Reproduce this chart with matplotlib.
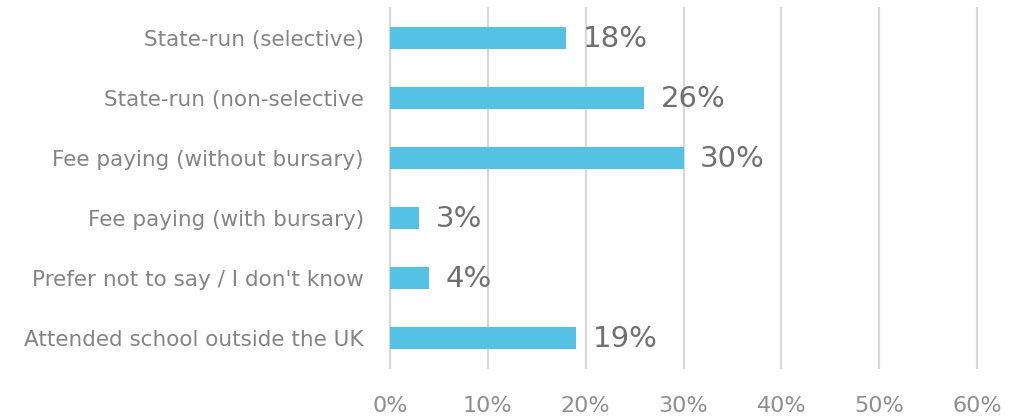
import matplotlib.pyplot as plt

# data
categories = ["State-run (selective)", "State-run (non-selective", "Fee paying (without bursary)",
              "Fee paying (with bursary)", "Prefer not to say / I don't know",
              "Attended school outside the UK"]
values = [18, 26, 30, 3, 4, 19]
xticks = [0, 10, 20, 30, 40, 50, 60]

plt.rcParams['font.family'] = ['DejaVu Sans']

fig = plt.figure(figsize=(10.12, 4.2), dpi=100)
ax = fig.add_axes([0.3854, 0.124, 0.58, 0.857])

y = list(range(len(categories)))
ax.barh(y, values, height=0.37, color='#55C2E5', zorder=3)
for yi, v in zip(y, values):
    ax.text(v + 1.7, yi + 0.02, f"{v}%", va='center', ha='left', fontsize=21,
            color='#707070')

ax.set_ylim(5.5, -0.5)
ax.set_xlim(0, 60)
ax.set_yticks(y)
ax.set_yticklabels(categories, fontsize=15.5, color='#858585')
ax.set_xticks(xticks)
ax.set_xticklabels([f"{t}%" for t in xticks], fontsize=16, color='#8f8f8f')
ax.tick_params(axis='both', length=0)
ax.tick_params(axis='y', pad=19)
ax.tick_params(axis='x', pad=20)
ax.grid(axis='x', color='#d9d9d9', linewidth=1.6, zorder=0)
for gl in ax.get_xgridlines():
    gl.set_clip_on(False)
for s in ax.spines.values():
    s.set_visible(False)

plt.savefig('out.png', dpi=100)
